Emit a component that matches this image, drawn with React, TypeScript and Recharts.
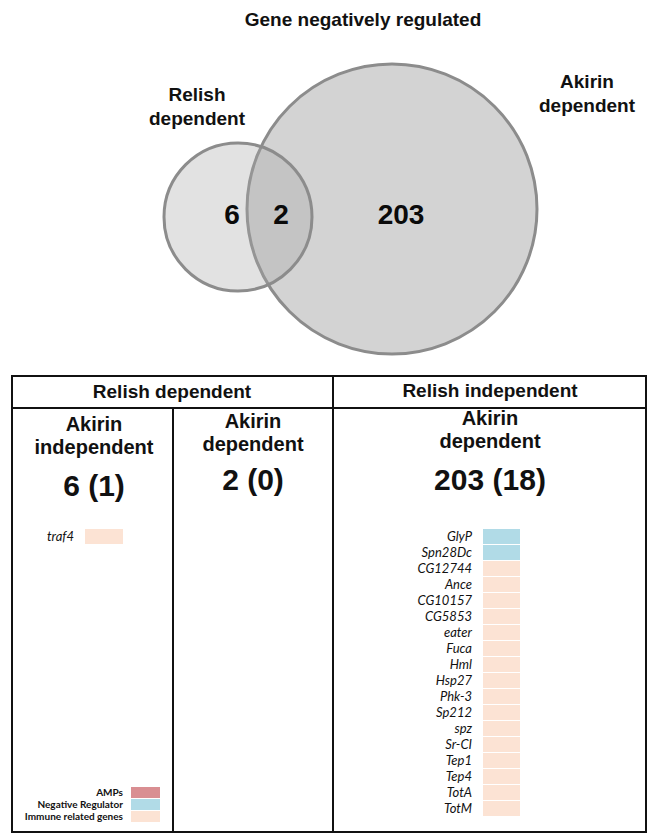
import { ScatterChart, Scatter, XAxis, YAxis, BarChart, Bar, Cell } from 'recharts'

// venn diagram: two sets, layout in page units (1 unit = 1 px)
const vennSetNames = ['Relish dependent', 'Akirin dependent']
const vennSetX = [238, 392]
const vennSetY = [217, 209]
const vennSetR = [74, 145]
const vennLabelX = [197, 587]
const vennLabelY = [101, 88]

const vennRegionCounts = [6, 2, 203]
const vennRegionX = [232, 281, 401]
const vennRegionY = [214, 214, 214]

// table
const relishGroups = ['Relish dependent', 'Relish independent']
const columnTitles = [
	['Akirin', 'independent'],
	['Akirin', 'dependent'],
	['Akirin', 'dependent'],
]
const columnTotals = [6, 2, 203]
const columnImmune = [1, 0, 18]

const geneClasses = ['AMPs', 'Negative Regulator', 'Immune related genes']
const classColors = ['#d98e92', '#b1dbe7', '#fce3d4']

const relishOnlyGenes = ['traf4']
const relishOnlyClass = ['Immune related genes']

const akirinOnlyGenes = [
	'GlyP', 'Spn28Dc', 'CG12744', 'Ance', 'CG10157', 'CG5853', 'eater', 'Fuca', 'Hml',
	'Hsp27', 'Phk-3', 'Sp212', 'spz', 'Sr-CI', 'Tep1', 'Tep4', 'TotA', 'TotM',
]
const akirinOnlyClass = [
	'Negative Regulator', 'Negative Regulator',
	'Immune related genes', 'Immune related genes', 'Immune related genes', 'Immune related genes',
	'Immune related genes', 'Immune related genes', 'Immune related genes', 'Immune related genes',
	'Immune related genes', 'Immune related genes', 'Immune related genes', 'Immune related genes',
	'Immune related genes', 'Immune related genes', 'Immune related genes', 'Immune related genes',
]

const SANS = '"Liberation Sans", Arial, Helvetica, sans-serif'
const GENE_FONT = 'Lato, "Open Sans", sans-serif'

const colorOf = (cls: string) => classColors[geneClasses.indexOf(cls)]

const circles = vennSetNames.map((name, i) => ({
	name,
	x: vennSetX[i],
	y: vennSetY[i],
	r: vennSetR[i],
}))
const setLabels = vennSetNames.map((name, i) => ({ name, x: vennLabelX[i], y: vennLabelY[i] }))
const regions = vennRegionCounts.map((count, i) => ({ count, x: vennRegionX[i], y: vennRegionY[i] }))

const circleStyle = [
	{ fill: '#a8a8a8', fillOpacity: 0.33 },
	{ fill: '#c6c6c6', fillOpacity: 0.78 },
]

function CircleShape(props: any) {
	const { cx, cy, payload } = props
	const i = vennSetNames.indexOf(payload.name)
	return (
		<circle
			cx={cx}
			cy={cy}
			r={payload.r}
			fill={circleStyle[i].fill}
			fillOpacity={circleStyle[i].fillOpacity}
			stroke="#8c8c8c"
			strokeWidth={3}
		/>
	)
}

function SetLabelShape(props: any) {
	const { cx, cy, payload } = props
	const words = payload.name.split(' ')
	return (
		<text x={cx} y={cy} textAnchor="middle" fontFamily={SANS} fontWeight="bold" fontSize={19} fill="#111">
			{words.map((w: string, k: number) => (
				<tspan key={k} x={cx} dy={k === 0 ? 0 : 24}>
					{w}
				</tspan>
			))}
		</text>
	)
}

function RegionShape(props: any) {
	const { cx, cy, payload } = props
	return (
		<text x={cx} y={cy} dy={10} textAnchor="middle" fontFamily={SANS} fontWeight="bold" fontSize={28} fill="#0a0a0a">
			{payload.count}
		</text>
	)
}

function Venn() {
	return (
		<ScatterChart width={648} height={370} margin={{ top: 0, right: 0, bottom: 0, left: 0 }}>
			<XAxis type="number" dataKey="x" domain={[0, 648]} hide />
			<YAxis type="number" dataKey="y" domain={[0, 370]} reversed hide />
			{/* big set first so the small one sits on top */}
			<Scatter data={[circles[1], circles[0]]} shape={CircleShape} isAnimationActive={false} />
			<Scatter data={setLabels} shape={SetLabelShape} isAnimationActive={false} />
			<Scatter data={regions} shape={RegionShape} isAnimationActive={false} />
		</ScatterChart>
	)
}

const makeTick = (style: any) => (props: any) => {
	const { x, y, payload } = props
	return (
		<text x={x} y={y} dy="0.36em" textAnchor="end" {...style}>
			{payload.value}
		</text>
	)
}

interface GeneListProps {
	genes: string[]
	classes: string[]
	width: number
	axisWidth: number
	rowHeight: number
	barSize: number
	tickStyle: any
	tickMargin: number
}

function GeneList({ genes, classes, width, axisWidth, rowHeight, barSize, tickStyle, tickMargin }: GeneListProps) {
	const data = genes.map((gene, i) => ({ gene, cls: classes[i], value: 1 }))
	return (
		<BarChart
			layout="vertical"
			width={width}
			height={rowHeight * genes.length}
			data={data}
			margin={{ top: 0, right: 0, bottom: 0, left: 0 }}
			barSize={barSize}
		>
			<XAxis type="number" domain={[0, 1]} hide />
			<YAxis
				type="category"
				dataKey="gene"
				width={axisWidth}
				interval={0}
				axisLine={false}
				tickLine={false}
				tickSize={0}
				tickMargin={tickMargin}
				tick={makeTick(tickStyle)}
			/>
			<Bar dataKey="value" isAnimationActive={false}>
				{data.map((d, i) => (
					<Cell key={i} fill={colorOf(d.cls)} />
				))}
			</Bar>
		</BarChart>
	)
}

const geneTick = { fontFamily: GENE_FONT, fontStyle: 'italic', fontSize: 13, fill: '#111' }
const legendTick = { fontFamily: GENE_FONT, fontWeight: 'bold', fontSize: 10, fill: '#111' }

const line = (left: number, top: number, width: number, height: number) => (
	<div style={{ position: 'absolute', left, top, width, height, background: '#111' }} />
)

const colCenters = [94, 253, 490]
const titleTop = [413, 410, 407]
const totalTop = [469, 463, 463]

export default function App() {
	return (
		<div
			style={{
				position: 'absolute',
				left: 0,
				top: 0,
				width: 648,
				height: 835,
				background: '#fff',
				fontFamily: SANS,
				color: '#111',
				overflow: 'hidden',
			}}
		>
			<div
				style={{
					position: 'absolute',
					left: 0,
					width: 726,
					top: 9,
					textAlign: 'center',
					fontWeight: 'bold',
					fontSize: 19,
				}}
			>
				Gene negatively regulated
			</div>
			<div style={{ position: 'absolute', left: 0, top: 0 }}>
				<Venn />
			</div>

			{/* table grid */}
			{line(11, 375, 636, 2)}
			{line(11, 407, 636, 2)}
			{line(11, 831, 636, 2)}
			{line(11, 375, 2, 458)}
			{line(645, 375, 2, 458)}
			{line(332, 375, 2, 458)}
			{line(172, 408, 2, 425)}

			<div style={{ position: 'absolute', left: 11, width: 322, top: 381, textAlign: 'center', fontWeight: 'bold', fontSize: 19 }}>
				{relishGroups[0]}
			</div>
			<div style={{ position: 'absolute', left: 333, width: 314, top: 380, textAlign: 'center', fontWeight: 'bold', fontSize: 19 }}>
				{relishGroups[1]}
			</div>

			{columnTitles.map((t, i) => (
				<div
					key={i}
					style={{
						position: 'absolute',
						left: colCenters[i] - 80,
						width: 160,
						top: titleTop[i],
						textAlign: 'center',
						fontWeight: 'bold',
						fontSize: 20,
						lineHeight: '23px',
					}}
				>
					{t[0]}
					<br />
					{t[1]}
				</div>
			))}
			{columnTotals.map((n, i) => (
				<div
					key={i}
					style={{
						position: 'absolute',
						left: colCenters[i] - 80,
						width: 160,
						top: totalTop[i],
						textAlign: 'center',
						fontWeight: 'bold',
						fontSize: 30,
					}}
				>
					{n} ({columnImmune[i]})
				</div>
			))}

			<div style={{ position: 'absolute', left: 0, top: 528 }}>
				<GeneList
					genes={relishOnlyGenes}
					classes={relishOnlyClass}
					width={123}
					axisWidth={85}
					rowHeight={16}
					barSize={15}
					tickStyle={geneTick}
					tickMargin={11}
				/>
			</div>
			<div style={{ position: 'absolute', left: 380, top: 528 }}>
				<GeneList
					genes={akirinOnlyGenes}
					classes={akirinOnlyClass}
					width={140}
					axisWidth={103}
					rowHeight={16}
					barSize={15}
					tickStyle={geneTick}
					tickMargin={11}
				/>
			</div>
			<div style={{ position: 'absolute', left: 0, top: 786 }}>
				<GeneList
					genes={geneClasses}
					classes={geneClasses}
					width={160}
					axisWidth={131}
					rowHeight={12}
					barSize={11}
					tickStyle={legendTick}
					tickMargin={8}
				/>
			</div>
		</div>
	)
}
